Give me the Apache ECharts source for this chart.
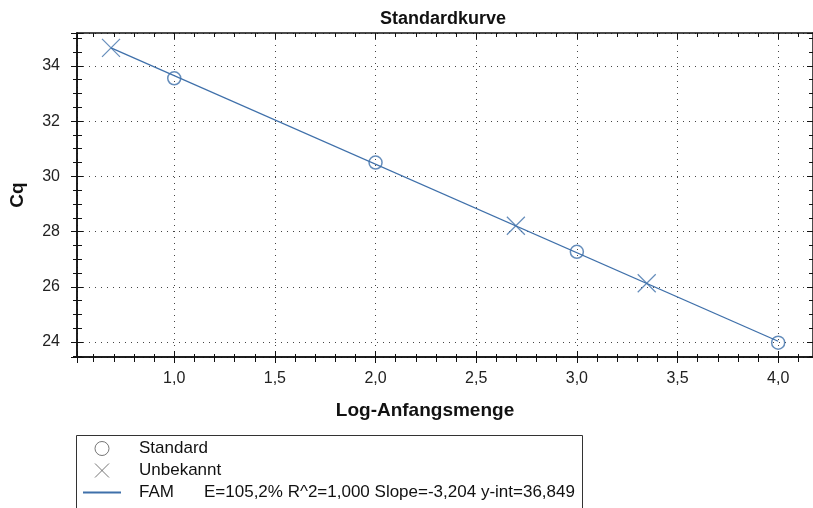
<!DOCTYPE html>
<html>
<head>
<meta charset="utf-8">
<script src="https://cdn.jsdelivr.net/npm/echarts@6/dist/echarts.min.js"></script>
<style>
html,body{margin:0;padding:0;background:#fff;}
#chart{width:813px;height:508px;}
</style>
</head>
<body>
<div id="chart"></div>
<script>
// ---- data ----
const chartTitle = 'Standardkurve';
const xAxisName = 'Log-Anfangsmenge';
const yAxisName = 'Cq';
const standardPoints = [[1.0, 33.55], [2.0, 30.50], [3.0, 27.27], [4.0, 23.98]];
const unknownPoints = [[0.686, 34.65], [2.697, 28.21], [3.347, 26.13]];
const fitLinePoints = [[0.686, 34.65], [4.0, 24.03]];
const seriesNames = ['Standard', 'Unbekannt', 'FAM'];
const fitLabel = 'E=105,2% R^2=1,000 Slope=-3,204 y-int=36,849';
const xRange = [0.517, 4.173];
const yRange = [23.46, 35.19];

const blue = '#3f70aa';
const font = 'Liberation Sans, Arial, sans-serif';
const gridLine = {show: true, lineStyle: {color: '#444', type: [1, 5], width: 1}};
const axisLineStyle = {show: true, onZero: false, lineStyle: {color: '#111', width: 1.5}};

function xAx(opts) {
  return Object.assign({
    type: 'value', min: xRange[0], max: xRange[1], splitNumber: 7,
    axisLine: axisLineStyle,
    axisLabel: {show: false},
    splitLine: {show: false},
    axisTick: {show: true, inside: true, length: 6, lineStyle: {color: '#111'}},
    minorTick: {show: true, splitNumber: 5, length: 4, lineStyle: {color: '#111'}}
  }, opts);
}
function yAx(opts) {
  return Object.assign({
    type: 'value', min: yRange[0], max: yRange[1], splitNumber: 6,
    axisLine: axisLineStyle,
    axisLabel: {show: false},
    splitLine: {show: false},
    axisTick: {show: true, inside: true, length: 6, lineStyle: {color: '#111'}},
    minorTick: {show: true, splitNumber: 4, length: 4, lineStyle: {color: '#111'}}
  }, opts);
}

const legendFont = 17;
const chart = echarts.init(document.getElementById('chart'), null, {renderer: 'canvas'});
chart.setOption({
  animation: false,
  backgroundColor: '#fff',
  textStyle: {fontFamily: font},
  title: {
    text: chartTitle, left: 438, top: 5, textAlign: 'center',
    textStyle: {fontFamily: font, fontSize: 18, fontWeight: 'bold', color: '#111'}
  },
  grid: {left: 77, top: 33, right: -1, bottom: 151},
  xAxis: [
    xAx({
      position: 'bottom',
      name: xAxisName, nameLocation: 'middle', nameGap: 44,
      nameTextStyle: {fontFamily: font, fontSize: 19, fontWeight: 'bold', color: '#111', padding: [0, 40, 0, 0]},
      axisLabel: {show: true, margin: 14, fontSize: 16, color: '#222', fontFamily: font,
        showMinLabel: false, showMaxLabel: false,
        formatter: v => v.toFixed(1).replace('.', ',')},
      axisTick: {show: true, inside: false, length: 6, lineStyle: {color: '#111'}},
      minorTick: {show: true, splitNumber: 5, length: 5, lineStyle: {color: '#111'}},
      splitLine: gridLine
    }),
    xAx({position: 'bottom', minorTick: {show: true, splitNumber: 5, length: 3, lineStyle: {color: '#111'}}}),
    xAx({position: 'top', axisLine: {show: true, onZero: false, lineStyle: {color: '#111', width: 1.5}}})
  ],
  yAxis: [
    yAx({
      position: 'left',
      name: yAxisName, nameLocation: 'middle', nameGap: 50,
      nameTextStyle: {fontFamily: font, fontSize: 19, fontWeight: 'bold', color: '#111'},
      axisLabel: {show: true, margin: 17, fontSize: 16, color: '#222', fontFamily: font,
        showMinLabel: false, showMaxLabel: false,
        formatter: v => String(Math.round(v))},
      axisTick: {show: true, inside: false, length: 6, lineStyle: {color: '#111'}},
      minorTick: {show: true, splitNumber: 4, length: 4, lineStyle: {color: '#111'}},
      splitLine: gridLine
    }),
    yAx({position: 'left', minorTick: {show: true, splitNumber: 4, length: 5, lineStyle: {color: '#111'}}}),
    yAx({position: 'right'})
  ],
  legend: {
    orient: 'vertical', left: 82, top: 440, padding: 0, height: 200,
    itemWidth: 38, itemHeight: 14, itemGap: 5,
    selectedMode: false,
    textStyle: {fontFamily: font, fontSize: legendFont, color: '#111',
      rich: {s: {width: 13}, a: {width: 65, fontSize: legendFont, fontFamily: font, color: '#111'},
             b: {fontSize: legendFont, fontFamily: font, color: '#111'}}},
    formatter: name => name === 'FAM' ? '{s|}{a|FAM}{b|' + fitLabel + '}' : '{s|}{b|' + name + '}',
    data: [
      {name: seriesNames[0], icon: 'circle', itemStyle: {color: 'rgba(0,0,0,0)', borderColor: '#555', borderWidth: 1}},
      {name: seriesNames[1], icon: 'path://M0,0L10,10M10,0L0,10', itemStyle: {color: 'rgba(0,0,0,0)', borderColor: '#555', borderWidth: 1}},
      {name: seriesNames[2], itemStyle: {color: 'rgba(0,0,0,0)', borderColor: 'rgba(0,0,0,0)', borderWidth: 0}}
    ]
  },
  graphic: [{
    type: 'rect', left: 74, top: 433,
    shape: {width: 506, height: 90},
    style: {fill: 'none', stroke: '#333', lineWidth: 1},
    z: -1
  }],
  series: [
    {
      name: seriesNames[2], type: 'line', data: fitLinePoints,
      symbol: 'none', lineStyle: {color: blue, width: 1.3}, itemStyle: {color: blue},
      z: 2
    },
    {
      name: seriesNames[0], type: 'scatter', data: standardPoints,
      symbol: 'circle', symbolSize: 13,
      itemStyle: {color: 'rgba(0,0,0,0)', borderColor: blue, borderWidth: 1.5},
      z: 3
    },
    {
      name: seriesNames[1], type: 'scatter', data: unknownPoints,
      symbol: 'path://M0,0L10,10M10,0L0,10', symbolSize: 18,
      itemStyle: {color: 'rgba(0,0,0,0)', borderColor: blue, borderWidth: 1.2},
      z: 3
    }
  ]
});
</script>
</body>
</html>
